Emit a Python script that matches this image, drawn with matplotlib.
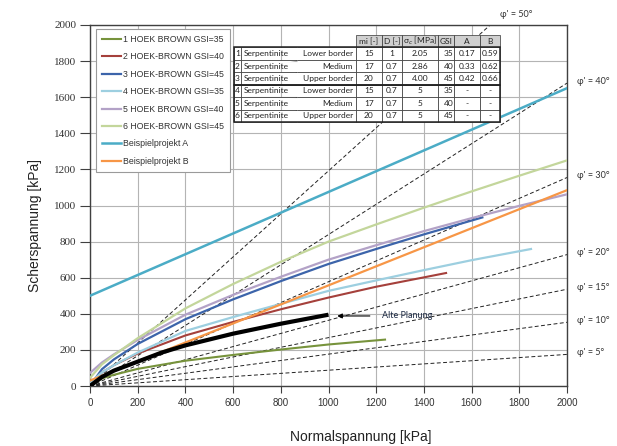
import numpy as np
import matplotlib
matplotlib.use("Agg")
import matplotlib.pyplot as plt
from matplotlib.patches import Rectangle

# curves: normal stress / shear stress in kPa
hb1_sig = [0, 50, 100, 200, 400, 600, 800, 1000, 1237]
hb1_tau = [0, 42, 62, 95, 140, 172, 202, 230, 257]
hb2_sig = [0, 50, 100, 200, 400, 600, 800, 1000, 1200, 1493]
hb2_tau = [0, 75, 115, 180, 280, 355, 425, 490, 550, 626]
hb3_sig = [0, 50, 100, 200, 400, 600, 800, 1000, 1200, 1400, 1645]
hb3_tau = [0, 93, 147, 233, 370, 480, 581, 676, 759, 840, 934]
hb4_sig = [0, 50, 100, 200, 400, 600, 800, 1000, 1200, 1400, 1600, 1849]
hb4_tau = [18, 75, 115, 185, 305, 382, 455, 527, 585, 642, 697, 759]
hb5_sig = [0, 50, 100, 200, 400, 600, 800, 1000, 1200, 1400, 1600, 1800, 2000]
hb5_tau = [72, 130, 175, 255, 395, 505, 605, 700, 780, 858, 930, 998, 1062]
hb6_sig = [0, 50, 100, 200, 400, 600, 800, 1000, 1200, 1400, 1600, 1800, 2000]
hb6_tau = [45, 120, 170, 265, 430, 565, 688, 800, 895, 988, 1078, 1165, 1250]
projA_sig = [0, 2000]
projA_tau = [500, 1650]
projB_sig = [0, 2000]
projB_tau = [30, 1085]
alt_sig = [0, 50, 100, 200, 300, 400, 600, 800, 1000]
alt_tau = [0, 50, 85, 135, 185, 225, 290, 345, 395]

# friction-angle reference lines (through origin), tau at sigma = 2000
phi_deg = [5, 10, 15, 20, 30, 40, 50]
phi_tau_end = [175, 353, 536, 728, 1155, 1678, 2384]

labels = ["1 HOEK BROWN GSI=35", "2 HOEK-BROWN GSI=40", "3 HOEK-BROWN GSI=45",
          "4 HOEK-BROWN GSI=35", "5 HOEK BROWN GSI=40", "6 HOEK-BROWN GSI=45",
          "Beispielprojekt A", "Beispielprojekt B"]
colors = ["#77933C", "#A5403B", "#3C64AA", "#9DCFE0", "#B3A2C7", "#C3D69B",
          "#4BACC6", "#F79646"]

# parameter table
case_nr = ["1", "2", "3", "4", "5", "6"]
rock = ["Serpentinite"] * 6
border = ["Lower border", "Medium", "Upper border", "Lower border", "Medium", "Upper border"]
mi_vals = ["15", "17", "20", "15", "17", "20"]
d_vals = ["1", "0.7", "0.7", "0.7", "0.7", "0.7"]
sigc_vals = ["2.05", "2.86", "4.00", "5", "5", "5"]
gsi_vals = ["35", "40", "45", "35", "40", "45"]
a_vals = ["0.17", "0.33", "0.42", "-", "-", "-"]
b_vals = ["0.59", "0.62", "0.66", "-", "-", "-"]
col_labels = ["", "", "", "mi [-]", "D [-]", "σ$_c$ [MPa]", "GSI", "A", "B"]

fig = plt.figure(figsize=(6.17, 4.46), dpi=100)
ax = fig.add_axes([90/617, 1-386/446, 477/617, 361/446])

for t in phi_tau_end:
    ax.plot([0, 2000], [0, t], color="#222222", lw=0.7, ls=(0, (4, 2.5)), zorder=2)

curves = [(hb1_sig, hb1_tau), (hb2_sig, hb2_tau), (hb3_sig, hb3_tau), (hb4_sig, hb4_tau),
          (hb5_sig, hb5_tau), (hb6_sig, hb6_tau), (projA_sig, projA_tau), (projB_sig, projB_tau)]
widths = [1.5, 1.5, 1.6, 1.6, 1.6, 1.6, 1.8, 1.6]
for (s, t), lab, c, w in zip(curves, labels, colors, widths):
    ax.plot(s, t, color=c, lw=w, label=lab, zorder=3)

ax.plot(alt_sig, alt_tau, color="black", lw=3.0, zorder=4, solid_capstyle="butt")
ax.annotate("", xy=(1025, 388), xytext=(1185, 388),
            arrowprops=dict(arrowstyle="-|>", color="black", lw=0.8, mutation_scale=7))
ax.text(1225, 388, "Alte Planung", fontsize=6.5, family="Lato", color="#1c2a44",
        va="center", ha="left")

for p, t in zip(phi_deg, phi_tau_end):
    if t <= 2000:
        ax.text(2040, t + 10, "φ' = %d°" % p, fontsize=6.5, family="Lato", color="#333333",
                va="center", ha="left", clip_on=False)
    else:
        ax.text(1720, 2060, "φ' = %d°" % p, fontsize=6.5, family="Lato", color="#333333",
                va="center", ha="left", clip_on=False)

ax.set_xlim(0, 2000)
ax.set_ylim(0, 2000)
ax.set_xticks(np.arange(0, 2001, 200))
ax.set_yticks(np.arange(0, 2001, 200))
ax.grid(True, color="#b4b4b4", lw=0.8)
ax.set_axisbelow(True)
for sp in ax.spines.values():
    sp.set_color("#404040")
    sp.set_linewidth(1.0)
ax.tick_params(axis="x", direction="out", length=5, color="#404040", labelsize=7,
               labelcolor="#333333", pad=4)
ax.tick_params(axis="y", direction="out", length=7, color="#404040", labelsize=8,
               labelcolor="#333333", pad=3)
for lab in ax.get_xticklabels():
    lab.set_family("Liberation Sans")
for lab in ax.get_yticklabels():
    lab.set_family("Liberation Serif")

leg = ax.legend(loc="upper left", bbox_to_anchor=(0.0126, 0.989), borderaxespad=0,
                prop={"family": "Liberation Sans", "size": 6.3}, handlelength=2.2,
                labelspacing=0.96, fancybox=False, framealpha=1, edgecolor="#9a9a9a",
                borderpad=0.7, handletextpad=0.2)
leg.get_frame().set_linewidth(0.8)
for txt in leg.get_texts():
    txt.set_color("#333333")

# table
rows = [list(r) for r in zip(case_nr, rock, border, mi_vals, d_vals, sigc_vals,
                             gsi_vals, a_vals, b_vals)]
cw_px = [6.7, 56, 59.3, 26, 20, 36, 16, 26, 20]
tot = sum(cw_px)
x0 = (234-90)/477
wt = tot/477
y0 = (386-122)/361
ht = (122-35)/361
tab = ax.table(cellText=rows, colLabels=col_labels, colWidths=[c/tot for c in cw_px],
               bbox=[x0, y0, wt, ht], cellLoc="center")
tab.auto_set_font_size(False)
tab.set_zorder(6)
for (r, c), cell in tab.get_celld().items():
    cell.set_linewidth(0.5)
    cell.set_edgecolor("#333333")
    cell.PAD = 0.05
    txt = cell.get_text()
    txt.set_fontsize(6)
    txt.set_family("Lato")
    txt.set_color("#222222")
    if r == 0:
        if c < 3:
            cell.visible_edges = ""
        else:
            cell.set_facecolor("#d0d0d0")
    else:
        if c == 1:
            cell.visible_edges = "TBL"
            txt.set_ha("left")
        elif c == 2:
            cell.visible_edges = "TBR"
            txt.set_ha("right")
        elif c == 6:
            txt.set_ha("right")
rh = ht/7
for k in (0, 3):
    ax.add_patch(Rectangle((x0, y0 + ht - rh*(1 + k) - 3*rh), wt, 3*rh, transform=ax.transAxes,
                           fill=False, ec="#222222", lw=1.1, zorder=7))

fig.text(361/617, 1-437/446, "Normalspannung [kPa]", ha="center", va="center",
         fontsize=10, family="Liberation Sans", color="#222222")
fig.text(35/617, 1-226/446, "Scherspannung [kPa]", ha="center", va="center",
         rotation=90, fontsize=10, family="Liberation Sans", color="#222222")

fig.savefig("out.png", dpi=100)
